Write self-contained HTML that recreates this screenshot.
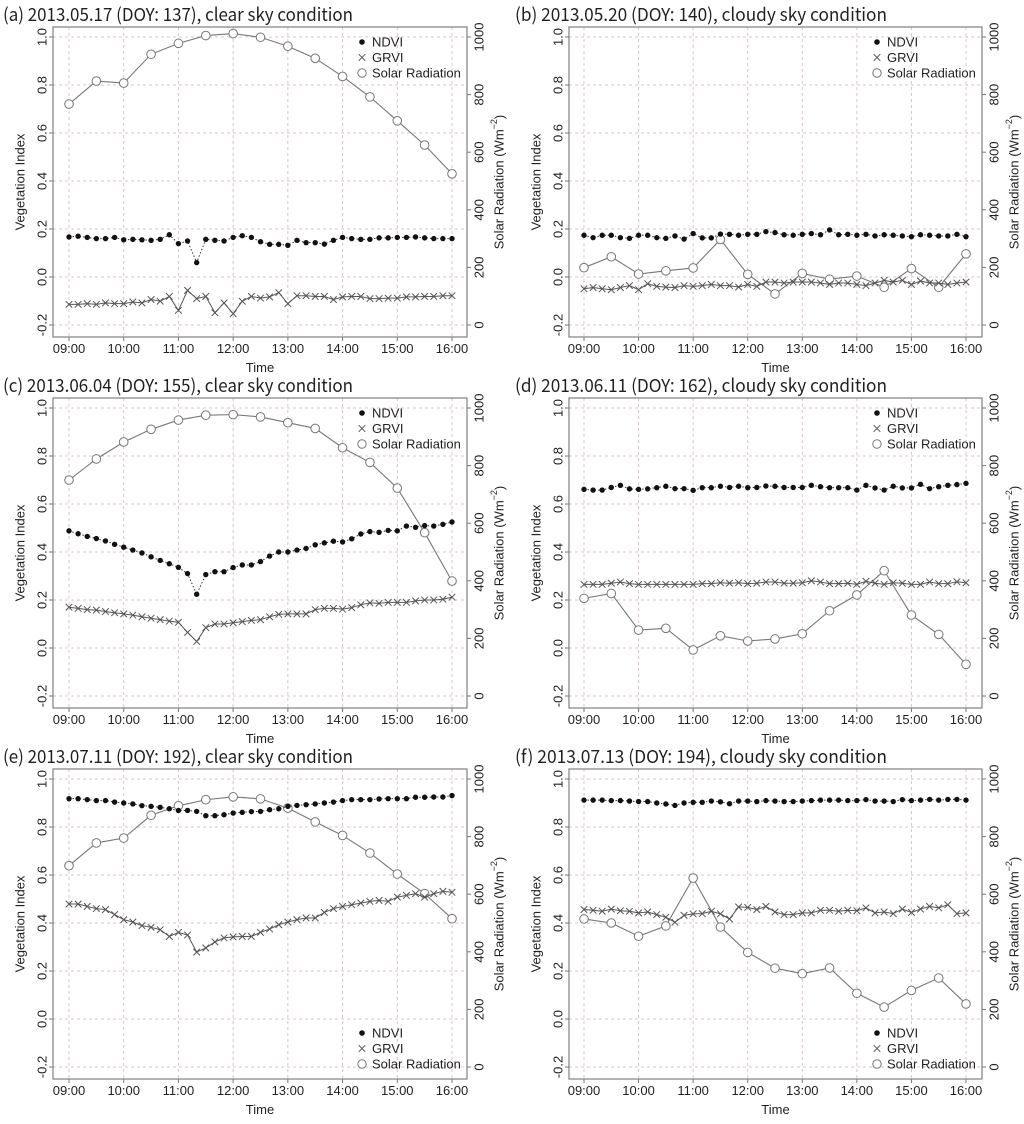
<!DOCTYPE html>
<html><head><meta charset="utf-8">
<style>
html,body{margin:0;padding:0;background:#fff;}
svg{display:block;font-family:"Liberation Sans",Arial,sans-serif;}
</style></head>
<body>
<svg id="chart" width="1024" height="1124" viewBox="0 0 1024 1124" xmlns="http://www.w3.org/2000/svg"></svg>
<script>
const xTickLabels = ["09:00","10:00","11:00","12:00","13:00","14:00","15:00","16:00"];
const viTicks = [-0.2,0.0,0.2,0.4,0.6,0.8,1.0];
const srTicks = [0,200,400,600,800,1000];
const titles = [
 "(a) 2013.05.17 (DOY: 137), clear sky condition",
 "(b) 2013.05.20 (DOY: 140), cloudy sky condition",
 "(c) 2013.06.04 (DOY: 155), clear sky condition",
 "(d) 2013.06.11 (DOY: 162), cloudy sky condition",
 "(e) 2013.07.11 (DOY: 192), clear sky condition",
 "(f) 2013.07.13 (DOY: 194), cloudy sky condition"];

const ndviA=[0.167,0.17,0.165,0.16,0.16,0.165,0.155,0.157,0.155,0.153,0.157,0.176,0.139,0.15,0.06,0.157,0.153,0.15,0.165,0.172,0.165,0.147,0.136,0.136,0.132,0.153,0.143,0.143,0.137,0.153,0.165,0.16,0.157,0.157,0.163,0.163,0.165,0.165,0.167,0.163,0.16,0.16,0.16];
const grviA=[-0.114,-0.114,-0.111,-0.114,-0.108,-0.111,-0.111,-0.104,-0.108,-0.094,-0.101,-0.081,-0.139,-0.056,-0.090,-0.081,-0.149,-0.108,-0.153,-0.101,-0.081,-0.088,-0.083,-0.065,-0.111,-0.078,-0.078,-0.081,-0.081,-0.094,-0.083,-0.081,-0.081,-0.090,-0.090,-0.088,-0.088,-0.083,-0.083,-0.081,-0.081,-0.078,-0.078];
const solarA=[767,847,840,940,978,1005,1012,999,968,926,863,792,709,625,525];

const ndviB=[0.174,0.164,0.174,0.174,0.164,0.161,0.174,0.174,0.164,0.161,0.171,0.158,0.181,0.163,0.163,0.179,0.178,0.174,0.178,0.178,0.189,0.185,0.176,0.174,0.178,0.181,0.176,0.196,0.176,0.178,0.174,0.178,0.171,0.176,0.174,0.171,0.168,0.176,0.174,0.171,0.171,0.178,0.168];
const grviB=[-0.049,-0.044,-0.049,-0.053,-0.044,-0.036,-0.053,-0.028,-0.039,-0.042,-0.044,-0.036,-0.039,-0.036,-0.031,-0.036,-0.036,-0.042,-0.031,-0.039,-0.021,-0.021,-0.025,-0.021,-0.021,-0.021,-0.025,-0.031,-0.025,-0.025,-0.031,-0.036,-0.025,-0.014,-0.021,-0.014,-0.031,-0.017,-0.025,-0.025,-0.031,-0.025,-0.021];
const solarB=[199,237,177,188,198,297,176,108,179,159,170,131,196,131,247];

const ndviC=[0.488,0.476,0.465,0.456,0.446,0.432,0.42,0.408,0.396,0.38,0.365,0.351,0.336,0.31,0.224,0.306,0.318,0.318,0.335,0.346,0.346,0.36,0.383,0.4,0.4,0.408,0.415,0.43,0.438,0.445,0.442,0.455,0.475,0.485,0.482,0.49,0.488,0.508,0.503,0.51,0.508,0.515,0.525];
const grviC=[0.17,0.165,0.16,0.158,0.152,0.147,0.142,0.137,0.13,0.124,0.118,0.112,0.107,0.065,0.027,0.085,0.1,0.1,0.105,0.11,0.115,0.118,0.13,0.14,0.142,0.142,0.142,0.16,0.165,0.165,0.162,0.168,0.18,0.188,0.186,0.19,0.19,0.19,0.196,0.2,0.2,0.203,0.212];
const solarC=[750,823,882,926,958,975,977,969,949,929,862,811,722,567,399];

const ndviD=[0.661,0.658,0.658,0.669,0.678,0.663,0.661,0.663,0.668,0.674,0.664,0.664,0.657,0.668,0.668,0.674,0.669,0.674,0.668,0.669,0.675,0.674,0.669,0.669,0.669,0.678,0.672,0.668,0.668,0.668,0.658,0.678,0.667,0.658,0.674,0.667,0.667,0.682,0.664,0.672,0.678,0.681,0.686];
const grviD=[0.265,0.265,0.265,0.27,0.275,0.268,0.265,0.265,0.265,0.265,0.265,0.265,0.265,0.268,0.268,0.272,0.27,0.272,0.268,0.27,0.275,0.275,0.27,0.27,0.272,0.28,0.275,0.268,0.268,0.27,0.265,0.278,0.27,0.265,0.272,0.27,0.265,0.265,0.275,0.268,0.268,0.276,0.272];
const solarD=[339,356,229,235,160,209,191,198,216,296,351,435,281,214,110];

const ndviE=[0.918,0.918,0.914,0.910,0.910,0.904,0.900,0.896,0.889,0.886,0.882,0.876,0.869,0.869,0.865,0.847,0.847,0.851,0.858,0.861,0.864,0.865,0.872,0.876,0.886,0.890,0.893,0.896,0.900,0.904,0.910,0.914,0.914,0.914,0.917,0.918,0.918,0.918,0.924,0.924,0.925,0.925,0.931];
const grviE=[0.479,0.479,0.469,0.460,0.456,0.435,0.414,0.404,0.389,0.382,0.372,0.344,0.361,0.350,0.279,0.296,0.321,0.338,0.342,0.344,0.344,0.361,0.375,0.393,0.404,0.414,0.421,0.421,0.444,0.460,0.469,0.476,0.483,0.490,0.494,0.490,0.508,0.515,0.522,0.508,0.522,0.532,0.528];
const solarE=[699,778,795,874,907,928,938,931,899,851,804,743,670,602,515];

const ndviF=[0.912,0.912,0.912,0.910,0.910,0.908,0.906,0.906,0.9,0.896,0.89,0.9,0.903,0.903,0.908,0.905,0.897,0.908,0.908,0.906,0.91,0.908,0.906,0.906,0.908,0.91,0.912,0.912,0.912,0.91,0.91,0.914,0.908,0.908,0.906,0.914,0.91,0.912,0.915,0.912,0.915,0.915,0.912];
const grviF=[0.456,0.453,0.449,0.458,0.451,0.449,0.442,0.446,0.435,0.424,0.403,0.432,0.438,0.439,0.449,0.438,0.417,0.467,0.465,0.456,0.469,0.446,0.435,0.435,0.442,0.442,0.453,0.453,0.449,0.453,0.451,0.463,0.442,0.446,0.439,0.458,0.444,0.458,0.469,0.463,0.476,0.439,0.442];
const solarF=[514,500,454,490,656,486,398,343,324,344,256,208,266,309,219];

const ndviSets=[ndviA,ndviB,ndviC,ndviD,ndviE,ndviF];
const grviSets=[grviA,grviB,grviC,grviD,grviE,grviF];
const solarSets=[solarA,solarB,solarC,solarD,solarE,solarF];
const legendBottom=[false,false,false,false,true,true];

const NS="http://www.w3.org/2000/svg";
const svg=document.getElementById('chart');
function mk(tag,attrs,parent){const e=document.createElementNS(NS,tag);for(const k in attrs)e.setAttribute(k,attrs[k]);(parent||svg).appendChild(e);return e;}

for(let p=0;p<6;p++){
  const col=p%2,row=Math.floor(p/2);
  const g=mk('g',{});
  
  
  const bx0=col?569:53,bx1=col?982:467;
  const x09=col?584:69,x16=col?966:452;
  const y10=37+row*371;
  const by0=y10-10,by1=y10+300;
  const xs=m=>x09+(x16-x09)*m/420;
  const yv=v=>y10+(1.0-v)*240;
  const ys=s=>yv(-0.2+s/1000*1.2);

  const t=mk('text',{x:col?515:3,y:y10-16,'font-size':18,fill:'#231f20','font-family':'"Noto Sans CJK JP","Liberation Sans",sans-serif',textLength:col?372:350,lengthAdjust:'spacingAndGlyphs'},g);
  t.textContent=titles[p];
  
  

  const grid=mk('g',{stroke:'#dcc4c4','stroke-width':1,'stroke-dasharray':'3,3'},g);
  
  
  for(let h=0;h<8;h++)mk('line',{x1:xs(h*60),x2:xs(h*60),y1:by0,y2:by1},grid);
  viTicks.forEach(v=>mk('line',{x1:bx0,x2:bx1,y1:yv(v),y2:yv(v)},grid));

  const box=mk('rect',{x:bx0,y:by0,width:bx1-bx0,height:by1-by0,fill:'none',stroke:'#808080','stroke-width':1.2},g);
  
  

  const xa=mk('g',{'font-size':13,fill:'#222','text-anchor':'middle'},g);
  
  
  xTickLabels.forEach((l,i)=>{const x=xs(i*60);mk('line',{x1:x,x2:x,y1:by1,y2:by1+4,stroke:'#777'},xa);const tx=mk('text',{x:x,y:by1+16},xa);tx.textContent=l;});
  const xt=mk('text',{x:(bx0+bx1)/2,y:by1+35,'font-size':13,fill:'#222','text-anchor':'middle'},g);
  xt.textContent='Time';
  
  

  const ya=mk('g',{'font-size':13,fill:'#222','text-anchor':'middle'},g);
  
  
  viTicks.forEach(v=>{const y=yv(v);mk('line',{x1:bx0-4,x2:bx0,y1:y,y2:y,stroke:'#777'},ya);const tx=mk('text',{x:bx0-11,y:y,transform:`rotate(-90 ${bx0-11} ${y})`,'dominant-baseline':'central'},ya);tx.textContent=v.toFixed(1);});
  const yt=mk('text',{x:0,y:0,transform:`translate(${bx0-33},${(by0+by1)/2}) rotate(-90)`,'font-size':13,fill:'#222','text-anchor':'middle','dominant-baseline':'central'},g);
  yt.textContent='Vegetation Index';
  
  

  const ra=mk('g',{'font-size':13,fill:'#222','text-anchor':'middle'},g);
  
  
  srTicks.forEach(s=>{const y=ys(s);mk('line',{x1:bx1,x2:bx1+4,y1:y,y2:y,stroke:'#777'},ra);const tx=mk('text',{x:bx1+12,y:y,transform:`rotate(-90 ${bx1+12} ${y})`,'dominant-baseline':'central'},ra);tx.textContent=String(s);});
  const rt=mk('text',{x:0,y:0,transform:`translate(${bx1+32},${(by0+by1)/2}) rotate(-90)`,'font-size':13,fill:'#222','text-anchor':'middle','dominant-baseline':'central'},g);
  
  
  rt.appendChild(document.createTextNode('Solar Radiation (Wm'));
  const sup=mk('tspan',{'font-size':9,dy:-5},rt);sup.textContent='\u22122';
  const cl=mk('tspan',{'font-size':13,dy:5},rt);cl.textContent=')';

  const sg=mk('g',{},g);
  
  
  const sd=solarSets[p];
  mk('polyline',{points:sd.map((s,i)=>xs(i*30)+','+ys(s)).join(' '),fill:'none',stroke:'#777','stroke-width':1.1},sg);
  sd.forEach((s,i)=>{const c=mk('circle',{cx:xs(i*30),cy:ys(s),r:4.3,fill:'#fff',stroke:'#777','stroke-width':1},sg);});

  const gg=mk('g',{},g);
  
  
  const gd=grviSets[p];
  mk('polyline',{points:gd.map((v,i)=>xs(i*10)+','+yv(v)).join(' '),fill:'none',stroke:'#555','stroke-width':1},gg);
  gd.forEach((v,i)=>{const x=xs(i*10),y=yv(v),d=3.3;const m=mk('path',{d:`M${x-d},${y-d}L${x+d},${y+d}M${x-d},${y+d}L${x+d},${y-d}`,stroke:'#555','stroke-width':1},gg);});

  const ng=mk('g',{},g);
  
  
  const nd=ndviSets[p];
  mk('polyline',{points:nd.map((v,i)=>xs(i*10)+','+yv(v)).join(' '),fill:'none',stroke:'#333','stroke-width':1,'stroke-dasharray':'1.5,2'},ng);
  nd.forEach((v,i)=>{const c=mk('circle',{cx:xs(i*10),cy:yv(v),r:2.7,fill:'#111'},ng);});

  const lg=mk('g',{'font-size':13,fill:'#222'},g);
  
  
  const lx=bx1-105, ly=legendBottom[p]?by1-46:by0+15;
  const labels=['NDVI','GRVI','Solar Radiation'];
  labels.forEach((l,k)=>{
    const y=ly+k*15.5;
    const e=mk('g',{},lg);
    
    
    if(k===0)mk('circle',{cx:lx,cy:y,r:2.8,fill:'#111'},e);
    if(k===1)mk('path',{d:`M${lx-3.3},${y-3.3}L${lx+3.3},${y+3.3}M${lx-3.3},${y+3.3}L${lx+3.3},${y-3.3}`,stroke:'#555'},e);
    if(k===2)mk('circle',{cx:lx,cy:y,r:4.2,fill:'#fff',stroke:'#777'},e);
    const tx=mk('text',{x:lx+10,y:y,'dominant-baseline':'central'},e);tx.textContent=l;
  });
}
</script>
</body></html>
